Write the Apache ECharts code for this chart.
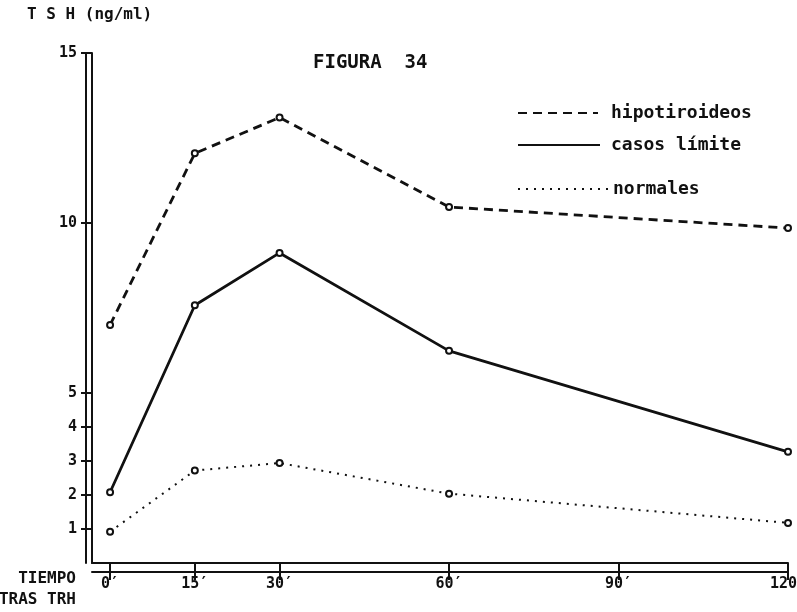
<!DOCTYPE html>
<html>
<head>
<meta charset="utf-8">
<title>FIGURA 34</title>
<script src="https://cdn.jsdelivr.net/npm/echarts@6/dist/echarts.min.js"></script>
<style>
  html, body { margin: 0; padding: 0; background: #fff; }
  #chart { width: 797px; height: 612px; }
</style>
</head>
<body>
<div id="chart"></div>
<script>
// Minutes after TRH and TSH values (ng/ml) for each group
const times = [0, 15, 30, 60, 120];
const hipotiroideos = [7.0, 12.05, 13.1, 10.47, 9.85];
const casosLimite = [2.08, 7.58, 9.12, 6.24, 3.27];
const normales = [0.92, 2.72, 2.94, 2.04, 1.18];

const xTicks = [0, 15, 30, 60, 90, 120];
const yTicks = [1, 2, 3, 4, 5, 10, 15];

const seriesNames = ['hipotiroideos', 'casos límite', 'normales'];

const INK = '#111';
const MONO = '"DejaVu Sans Mono", monospace';

function pairs(values) {
  return times.map((t, i) => [t, values[i]]);
}

const chart = echarts.init(document.getElementById('chart'), null, { renderer: 'canvas' });

const axisLineStyle = { show: true, onZero: false, lineStyle: { color: INK, width: 2 } };

const legendBase = {
  orient: 'vertical',
  left: 512,
  itemHeight: 14,
  itemStyle: { opacity: 0 },
  selectedMode: false,
  textStyle: { fontFamily: MONO, fontWeight: 'bold', fontSize: 18, color: INK, lineHeight: 20 }
};

chart.setOption({
  backgroundColor: '#fff',
  animation: false,
  title: {
    text: 'FIGURA  34',
    left: 308,
    top: 49,
    textStyle: { fontFamily: MONO, fontWeight: 'bold', fontSize: 19, color: INK }
  },
  legend: [
    Object.assign({}, legendBase, {
      top: 98, itemWidth: 80, data: [seriesNames[0]],
      textStyle: Object.assign({}, legendBase.textStyle, { padding: [0, 0, 0, 8] })
    }),
    Object.assign({}, legendBase, {
      top: 130, itemWidth: 82, data: [seriesNames[1]],
      textStyle: Object.assign({}, legendBase.textStyle, { padding: [0, 0, 0, 6] })
    }),
    Object.assign({}, legendBase, {
      top: 174, itemWidth: 92, data: [seriesNames[2]],
      textStyle: Object.assign({}, legendBase.textStyle, { padding: [0, 0, 0, -2] })
    })
  ],
  grid: { left: 92, right: 9, top: 53, bottom: 49, containLabel: false, outerBoundsMode: 'none' },
  xAxis: [
    {
      type: 'value', min: -3.2, max: 120, position: 'bottom',
      axisLine: axisLineStyle,
      axisTick: { show: true, customValues: xTicks, length: 9, lineStyle: { color: INK, width: 2 } },
      axisLabel: { show: false },
      splitLine: { show: false }
    },
    {
      type: 'value', min: -3.2, max: 120, position: 'bottom', offset: 9,
      axisLine: axisLineStyle,
      axisTick: { show: true, customValues: xTicks, length: 8, lineStyle: { color: INK, width: 2 } },
      axisLabel: {
        show: true, customValues: xTicks, margin: 5,
        formatter: v => v + '\u2032',
        fontFamily: MONO, fontWeight: 'bold', fontSize: 15, color: INK
      },
      splitLine: { show: false }
    }
  ],
  yAxis: [
    {
      type: 'value', min: 0, max: 15, position: 'left',
      axisLine: axisLineStyle,
      axisTick: { show: true, customValues: yTicks, length: 6, lineStyle: { color: INK, width: 2 } },
      axisLabel: { show: false },
      splitLine: { show: false }
    },
    {
      type: 'value', min: 0, max: 15, position: 'left', offset: 6,
      axisLine: axisLineStyle,
      axisTick: { show: true, customValues: yTicks, length: 5, lineStyle: { color: INK, width: 2 } },
      axisLabel: {
        show: true, customValues: yTicks, margin: 9,
        fontFamily: MONO, fontWeight: 'bold', fontSize: 15, color: INK
      },
      splitLine: { show: false }
    }
  ],
  graphic: [
    {
      type: 'text', left: 27, top: 7,
      style: { text: 'T S H (ng/ml)', font: 'bold 16px ' + MONO, fill: INK }
    },
    {
      type: 'text', right: 797 - 76, top: 571,
      style: { text: 'TIEMPO', font: 'bold 16px ' + MONO, fill: INK, align: 'right' }
    },
    {
      type: 'text', right: 797 - 76, top: 592,
      style: { text: 'TRAS TRH', font: 'bold 16px ' + MONO, fill: INK, align: 'right' }
    }
  ],
  series: [
    {
      name: seriesNames[0], type: 'line', data: pairs(hipotiroideos),
      symbol: 'emptyCircle', symbolSize: 6,
      lineStyle: { color: INK, width: 2.8, type: [9, 6] },
      itemStyle: { color: INK, borderColor: INK, borderWidth: 1.5 }
    },
    {
      name: seriesNames[1], type: 'line', data: pairs(casosLimite),
      symbol: 'emptyCircle', symbolSize: 6,
      lineStyle: { color: INK, width: 2.8, type: 'solid' },
      itemStyle: { color: INK, borderColor: INK, borderWidth: 1.5 }
    },
    {
      name: seriesNames[2], type: 'line', data: pairs(normales),
      symbol: 'emptyCircle', symbolSize: 6,
      lineStyle: { color: INK, width: 2, type: [2, 6] },
      itemStyle: { color: INK, borderColor: INK, borderWidth: 1.5 }
    }
  ]
});
</script>
</body>
</html>
